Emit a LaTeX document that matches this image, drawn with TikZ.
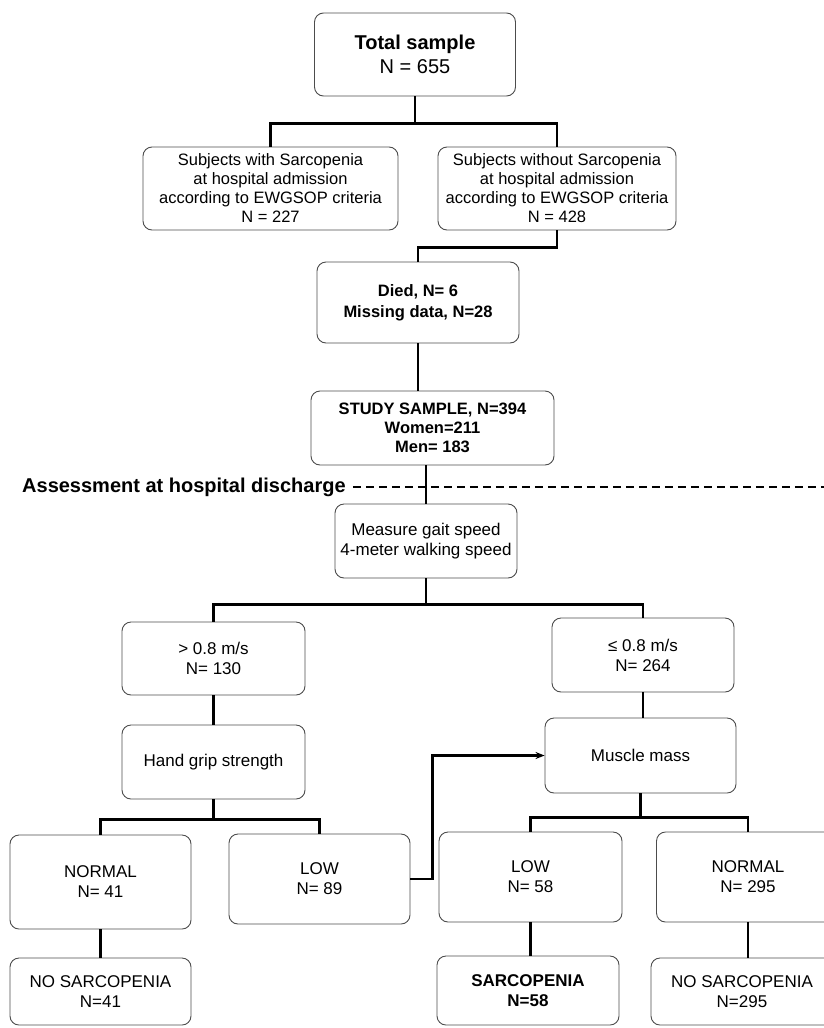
\documentclass[tikz,border=0pt]{standalone}
\usepackage{fontspec}
\setmainfont{Liberation Sans}
\usetikzlibrary{calc, arrows.meta}

\begin{document}
\begin{tikzpicture}[x=1pt, y=-1pt,
			box/.style = {draw=black!70, line width=0.9pt, rounded corners=9pt, align=center, inner sep=0pt, font=\fontsize{17}{20}\selectfont},
			link/.style = {line width=2.5pt},
		]
			\def\W{824};
			\def\H{1028};

			\clip (0,0) rectangle (\W,\H);

			% admission
			\begin{scope}
				\node (total) [box, minimum width=201, minimum height=83, font=\fontsize{20}{24}\selectfont\bfseries] at (415,54.5) {Total sample\\ \mdseries N = 655};
				\node (with) [box, minimum width=255, minimum height=83, font=\fontsize{16.5}{19}\selectfont] at (270.5,188.5) {Subjects with Sarcopenia\\ at hospital admission\\ according to EWGSOP criteria\\ N = 227};
				\node (without) [box, minimum width=238, minimum height=83, font=\fontsize{16.5}{19}\selectfont] at (557,188.5) {Subjects without Sarcopenia\\ at hospital admission\\ according to EWGSOP criteria\\ N = 428};
				\node (died) [box, minimum width=202, minimum height=81, font=\fontsize{16.5}{21}\selectfont\bfseries] at (418,302.5) {Died, N= 6\\ Missing data, N=28};
				\node (study) [box, minimum width=243, minimum height=74, font=\fontsize{16.5}{19}\selectfont\bfseries] at (432.5,428) {STUDY SAMPLE, N=394\\ Women=211\\ Men= 183};

				\draw [link] (total.south) -- ++(0,27) coordinate (split1) -| (with.north);
				\draw [link] (split1) -| (without.north);
				\draw [link] (without.south) -- ++(0,17) -| (died.north);
				\draw [link] (died.south) -- (died.south |- study.north);
			\end{scope}

			% discharge
			\begin{scope}
				\node (assess) [anchor=west, inner sep=2pt, font=\fontsize{20}{24}\selectfont\bfseries] at (20,487) {Assessment at hospital discharge};
				\coordinate (edge) at (\W,487);
				\draw [line width=2.2pt, dash pattern=on 8pt off 5pt] ([xshift=5pt]assess.east) -- (assess.east -| edge);
			\end{scope}

			% gait speed
			\begin{scope}
				\node (measure) [box, minimum width=182, minimum height=74] at (426,541) {Measure gait speed\\ 4-meter walking speed};
				\node (gt) [box, minimum width=183, minimum height=73] at (213.5,658.5) {> 0.8 m/s\\ N= 130};
				\node (le) [box, minimum width=182, minimum height=74] at (643,655) {≤ 0.8 m/s\\ N= 264};
				\node (grip) [box, minimum width=183, minimum height=74] at (213.5,762) {Hand grip strength};
				\node (muscle) [box, minimum width=191, minimum height=75] at (640.5,755.5) {Muscle mass};

				\draw [link] (study.south -| measure.north) -- (measure.north);
				\draw [link] (measure.south) -- ++(0,26) coordinate (split2) -| (gt.north);
				\draw [link] (split2) -| (le.north);
				\draw [link] (gt.south) -- (grip.north);
				\draw [link] (le.south) -- (le.south |- muscle.north);
			\end{scope}

			% outcome
			\begin{scope}
				\node (normA) [box, minimum width=181, minimum height=94] at (100.5,882) {NORMAL\\ N= 41};
				\node (lowA) [box, minimum width=181, minimum height=90] at (319.5,879) {LOW\\ N= 89};
				\node (lowB) [box, minimum width=183, minimum height=90] at (530.5,877) {LOW\\ N= 58};
				\node (normB) [box, minimum width=183, minimum height=90] at (748,877) {NORMAL\\ N= 295};
				\node (noA) [box, minimum width=181, minimum height=67] at (100.5,991.5) {NO SARCOPENIA\\ N=41};
				\node (sarc) [box, minimum width=182, minimum height=69] at (528,990.5) {\bfseries SARCOPENIA\\ \bfseries N=58};
				\node (noB) [box, minimum width=182, minimum height=67] at (742,991.5) {NO SARCOPENIA\\ N=295};

				\draw [link] (grip.south) -- ++(0,20) coordinate (split3) -| (normA.north);
				\draw [link] (split3) -| (lowA.north);
				\draw [link, -{Stealth[length=9pt, width=7pt]}] (lowA.east) -- ++(22,0) |- (muscle.west);
				\draw [link] (muscle.south) -- ++(0,24) coordinate (split4) -| (lowB.north);
				\draw [link] (split4) -| (normB.north);
				\draw [link] (normA.south) -- (noA.north);
				\draw [link] (lowB.south) -- (lowB.south |- sarc.north);
				\draw [link] (normB.south) -- (normB.south |- noB.north);
			\end{scope}
		\end{tikzpicture}
\end{document}
